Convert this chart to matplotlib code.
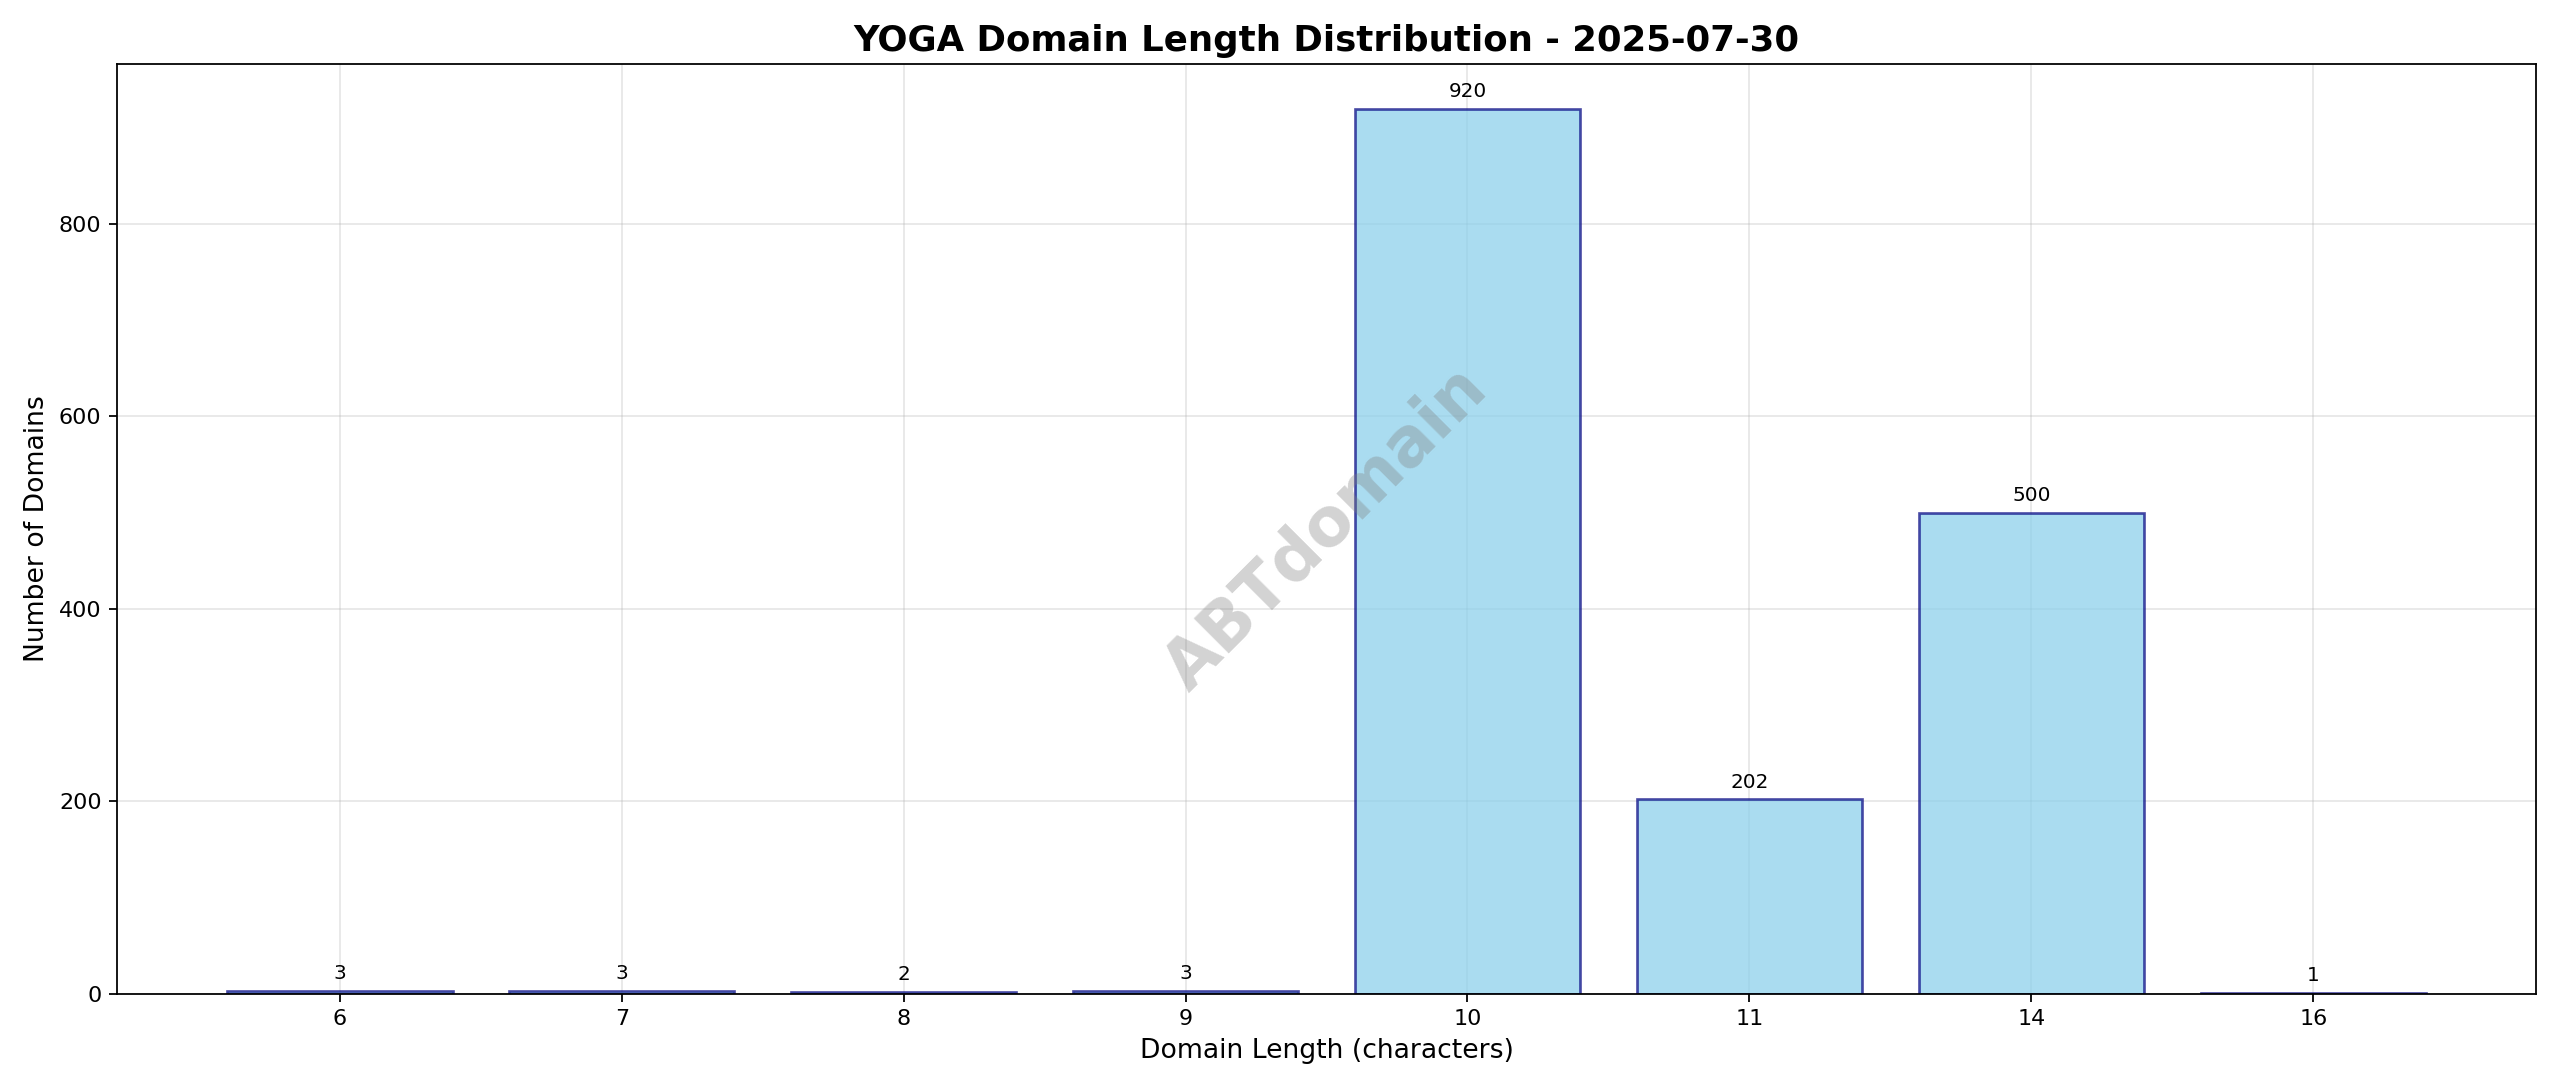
import matplotlib
matplotlib.use('Agg')
import matplotlib.pyplot as plt

lengths = ['6', '7', '8', '9', '10', '11', '14', '16']
counts = [3, 3, 2, 3, 920, 202, 500, 1]

fig, ax = plt.subplots(figsize=(16, 6.8), dpi=160)
x = range(len(lengths))
bars = ax.bar(x, counts, color='skyblue', edgecolor='navy', alpha=0.7, linewidth=1.2)
for b, c in zip(bars, counts):
    ax.text(b.get_x() + b.get_width() / 2, b.get_height() + 8, str(c),
            ha='center', va='bottom', fontsize=9)

ax.set_xticks(list(x))
ax.set_xticklabels(lengths)
ax.set_title('YOGA Domain Length Distribution - 2025-07-30', fontsize=16, fontweight='bold')
ax.set_xlabel('Domain Length (characters)', fontsize=12)
ax.set_ylabel('Number of Domains', fontsize=12)
ax.grid(True, alpha=0.3)
ax.set_axisbelow(True)

ax.text(0.5, 0.5, 'ABTdomain', transform=ax.transAxes, fontsize=30, fontweight='bold',
        color='gray', alpha=0.35, rotation=45, ha='center', va='center')

plt.tight_layout()
plt.savefig('out.png')
